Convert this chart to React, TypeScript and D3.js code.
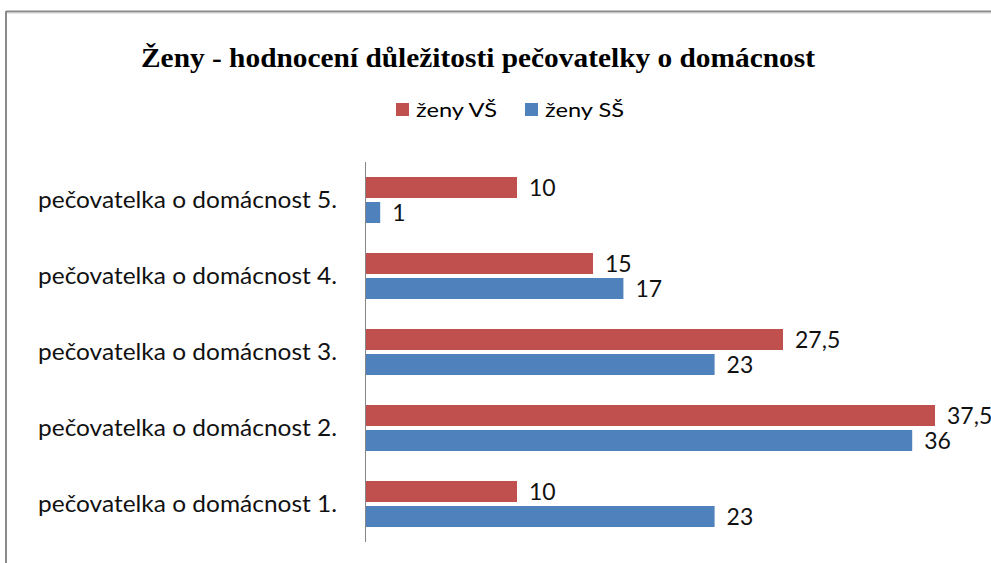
import React from "react";
import * as d3 from "d3";

const categories = ["pečovatelka o domácnost 1.", "pečovatelka o domácnost 2.", "pečovatelka o domácnost 3.", "pečovatelka o domácnost 4.", "pečovatelka o domácnost 5."];
const seriesNames = ["ženy VŠ", "ženy SŠ"];
const valuesVS = [10, 37.5, 27.5, 15, 10];
const valuesSS = [23, 36, 23, 17, 1];
const title = "Ženy - hodnocení důležitosti pečovatelky o domácnost";
const colors = ["#C0504D", "#4F81BD"];

export default function App() {
  const W = 991, H = 563;
  const x = d3.scaleLinear().domain([0, 40]).range([365, 973]);
  const order = [...categories].reverse();
  const y0 = d3.scaleBand<string>().domain(order).range([162, 542]);
  const y1 = d3.scaleBand<string>().domain(seriesNames).range([0, y0.bandwidth()]).paddingInner(0.16).paddingOuter(0.6);
  const series = [valuesVS, valuesSS];
  const fmt = (v: number) => String(v).replace(".", ",");
  const labelFont = "Lato, 'Open Sans', sans-serif";

  return (
    <svg width={W} height={H} style={{ position: "absolute", left: 0, top: 0, display: "block", background: "#fff" }}>
      <rect x={0} y={0} width={W} height={H} fill="#fff" />
      {/* frame */}
      <line x1={6} y1={11.5} x2={W + 5} y2={11.5} stroke="#8a8a8a" strokeWidth={2} />
      <line x1={6} y1={11} x2={6} y2={H + 5} stroke="#8a8a8a" strokeWidth={2} />
      <line x1={7} y1={13} x2={W} y2={13} stroke="#d0d0d0" strokeWidth={1} />

      <text x={141} y={67} fontFamily="'Liberation Serif', 'DejaVu Serif', serif" fontWeight="bold" fontSize={28} textLength={674} lengthAdjust="spacingAndGlyphs" fill="#000">{title}</text>

      {/* legend */}
      {seriesNames.map((s, i) => {
        const sx = i === 0 ? 396 : 525;
        const tw = i === 0 ? 81 : 79;
        return (
          <g key={s}>
            <rect x={sx} y={103} width={13} height={13} fill={colors[i]} />
            <text x={sx + 20} y={117} fontFamily={labelFont} fontSize={20} textLength={tw} lengthAdjust="spacingAndGlyphs" fill="#000">{s}</text>
          </g>
        );
      })}

      {/* bars */}
      {categories.map((c, ci) => (
        <g key={c}>
          {series.map((vals, si) => {
            const yy = (y0(c) as number) + (y1(seriesNames[si]) as number);
            const bw = y1.bandwidth();
            const xe = x(vals[ci]);
            return (
              <g key={si}>
                <rect x={x(0)} y={yy} width={xe - x(0)} height={bw} fill={colors[si]} />
                <text x={xe + 12} y={yy + bw / 2 + 8.5} fontFamily={labelFont} fontSize={23} fill="#111">{fmt(vals[ci])}</text>
              </g>
            );
          })}
          <text x={38} y={(y0(c) as number) + y0.bandwidth() / 2 + 8} fontFamily={labelFont} fontSize={23} textLength={299} lengthAdjust="spacingAndGlyphs" fill="#111">{c}</text>
        </g>
      ))}

      {/* axis */}
      <line x1={365.5} y1={162} x2={365.5} y2={542} stroke="#868686" strokeWidth={1} />
    </svg>
  );
}
